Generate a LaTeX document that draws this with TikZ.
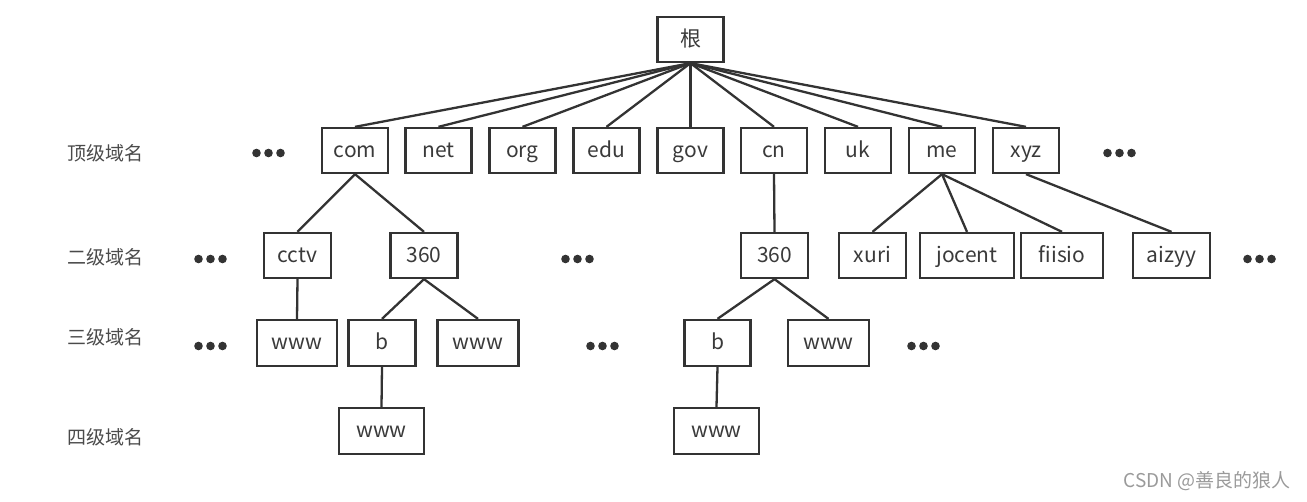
\documentclass[tikz,border=0pt]{standalone}
\usepackage{fontspec}
\setmainfont{Noto Sans CJK SC}
\definecolor{linec}{HTML}{333333}
\definecolor{textc}{HTML}{3A3A3A}
\definecolor{labc}{HTML}{4A4A4A}
\definecolor{wmc}{HTML}{9A9A9A}
\newcommand\dotsat[2]{\foreach \dd in {-12,0,12}{\fill[linec] (#1+\dd,#2) circle (4.3pt);}}
\begin{document}
\begin{tikzpicture}[x=1pt,y=-1pt,
  box/.style={draw=linec, line width=2.3pt, minimum height=45pt, inner sep=0pt, text=textc,
    text height=15pt, text depth=2pt, font=\fontsize{21}{24}\selectfont},
  lvl/.style={text=labc, font=\fontsize{19}{22}\selectfont, anchor=west, inner sep=0pt},
  link/.style={draw=linec, line width=2.3pt}]
\useasboundingbox (0,0) rectangle (1307,501);
% root
\node[box, minimum width=66pt] (root) at (690.5,39.5) {根};
% top level
\node[box, minimum width=66pt] (com) at (355,150.5) {com};
\node[box, minimum width=66pt] (net) at (438.5,150.5) {net};
\node[box, minimum width=66pt] (org) at (522.5,150.5) {org};
\node[box, minimum width=66pt] (edu) at (606.5,150.5) {edu};
\node[box, minimum width=66pt] (gov) at (690.5,150.5) {gov};
\node[box, minimum width=66pt] (cn) at (774,150.5) {cn};
\node[box, minimum width=66pt] (uk) at (858,150.5) {uk};
\node[box, minimum width=66pt] (me) at (942,150.5) {me};
\node[box, minimum width=66pt] (xyz) at (1026,150.5) {xyz};
% second level
\node[box, minimum width=67pt] (cctv) at (297.5,255.5) {cctv};
\node[box, minimum width=67pt] (s360) at (424,255.5) {360};
\node[box, minimum width=67pt] (c360) at (774.5,255.5) {360};
\node[box, minimum width=67pt] (xuri) at (872.5,255.5) {xuri};
\node[box, minimum width=94pt] (jocent) at (967,255.5) {jocent};
\node[box, minimum width=82pt] (fiisio) at (1062,255.5) {fiisio};
\node[box, minimum width=77pt] (aizyy) at (1171.5,255.5) {aizyy};
% third level
\node[box, minimum width=80pt, minimum height=46pt] (w1) at (297,343) {www};
\node[box, minimum width=67pt, minimum height=46pt] (b1) at (382,343) {b};
\node[box, minimum width=81pt, minimum height=46pt] (w2) at (478,343) {www};
\node[box, minimum width=66pt, minimum height=46pt] (b2) at (717.5,343) {b};
\node[box, minimum width=81pt, minimum height=46pt] (w3) at (828.5,343) {www};
% fourth level
\node[box, minimum width=85pt, minimum height=46pt] (w4) at (381.5,431) {www};
\node[box, minimum width=85pt, minimum height=46pt] (w5) at (716.5,431) {www};
% links
\foreach \c in {com,net,org,edu,gov,cn,uk,me,xyz}{\draw[link] (root.south) -- (\c.north);}
\draw[link] (com.south) -- (cctv.north);
\draw[link] (com.south) -- (s360.north);
\draw[link] (cn.south) -- (c360.north);
\draw[link] (me.south) -- (xuri.north);
\draw[link] (me.south) -- (jocent.north);
\draw[link] (me.south) -- (fiisio.north);
\draw[link] (xyz.south) -- (aizyy.north);
\draw[link] (cctv.south) -- (w1.north);
\draw[link] (s360.south) -- (b1.north);
\draw[link] (s360.south) -- (w2.north);
\draw[link] (c360.south) -- (b2.north);
\draw[link] (c360.south) -- (w3.north);
\draw[link] (b1.south) -- (w4.north);
\draw[link] (b2.south) -- (w5.north);
% level labels
\node[lvl] (l1) at (67,153) {顶级域名};
\node[lvl] (l2) at (67,257) {二级域名};
\node[lvl] (l3) at (67,337) {三级域名};
\node[lvl] (l4) at (67,437) {四级域名};
% ellipses
\dotsat{268.5}{153}
\dotsat{1119.5}{153}
\dotsat{210.5}{259}
\dotsat{577.5}{259}
\dotsat{1259.5}{259}
\dotsat{210.5}{346}
\dotsat{602.5}{346}
\dotsat{923.5}{346}
% watermark
\node[anchor=east, text=wmc, inner sep=0pt, font=\fontsize{19}{21}\selectfont] (wm) at (1291,481.5) {CSDN @善良的狼人};
\end{tikzpicture}
\end{document}
